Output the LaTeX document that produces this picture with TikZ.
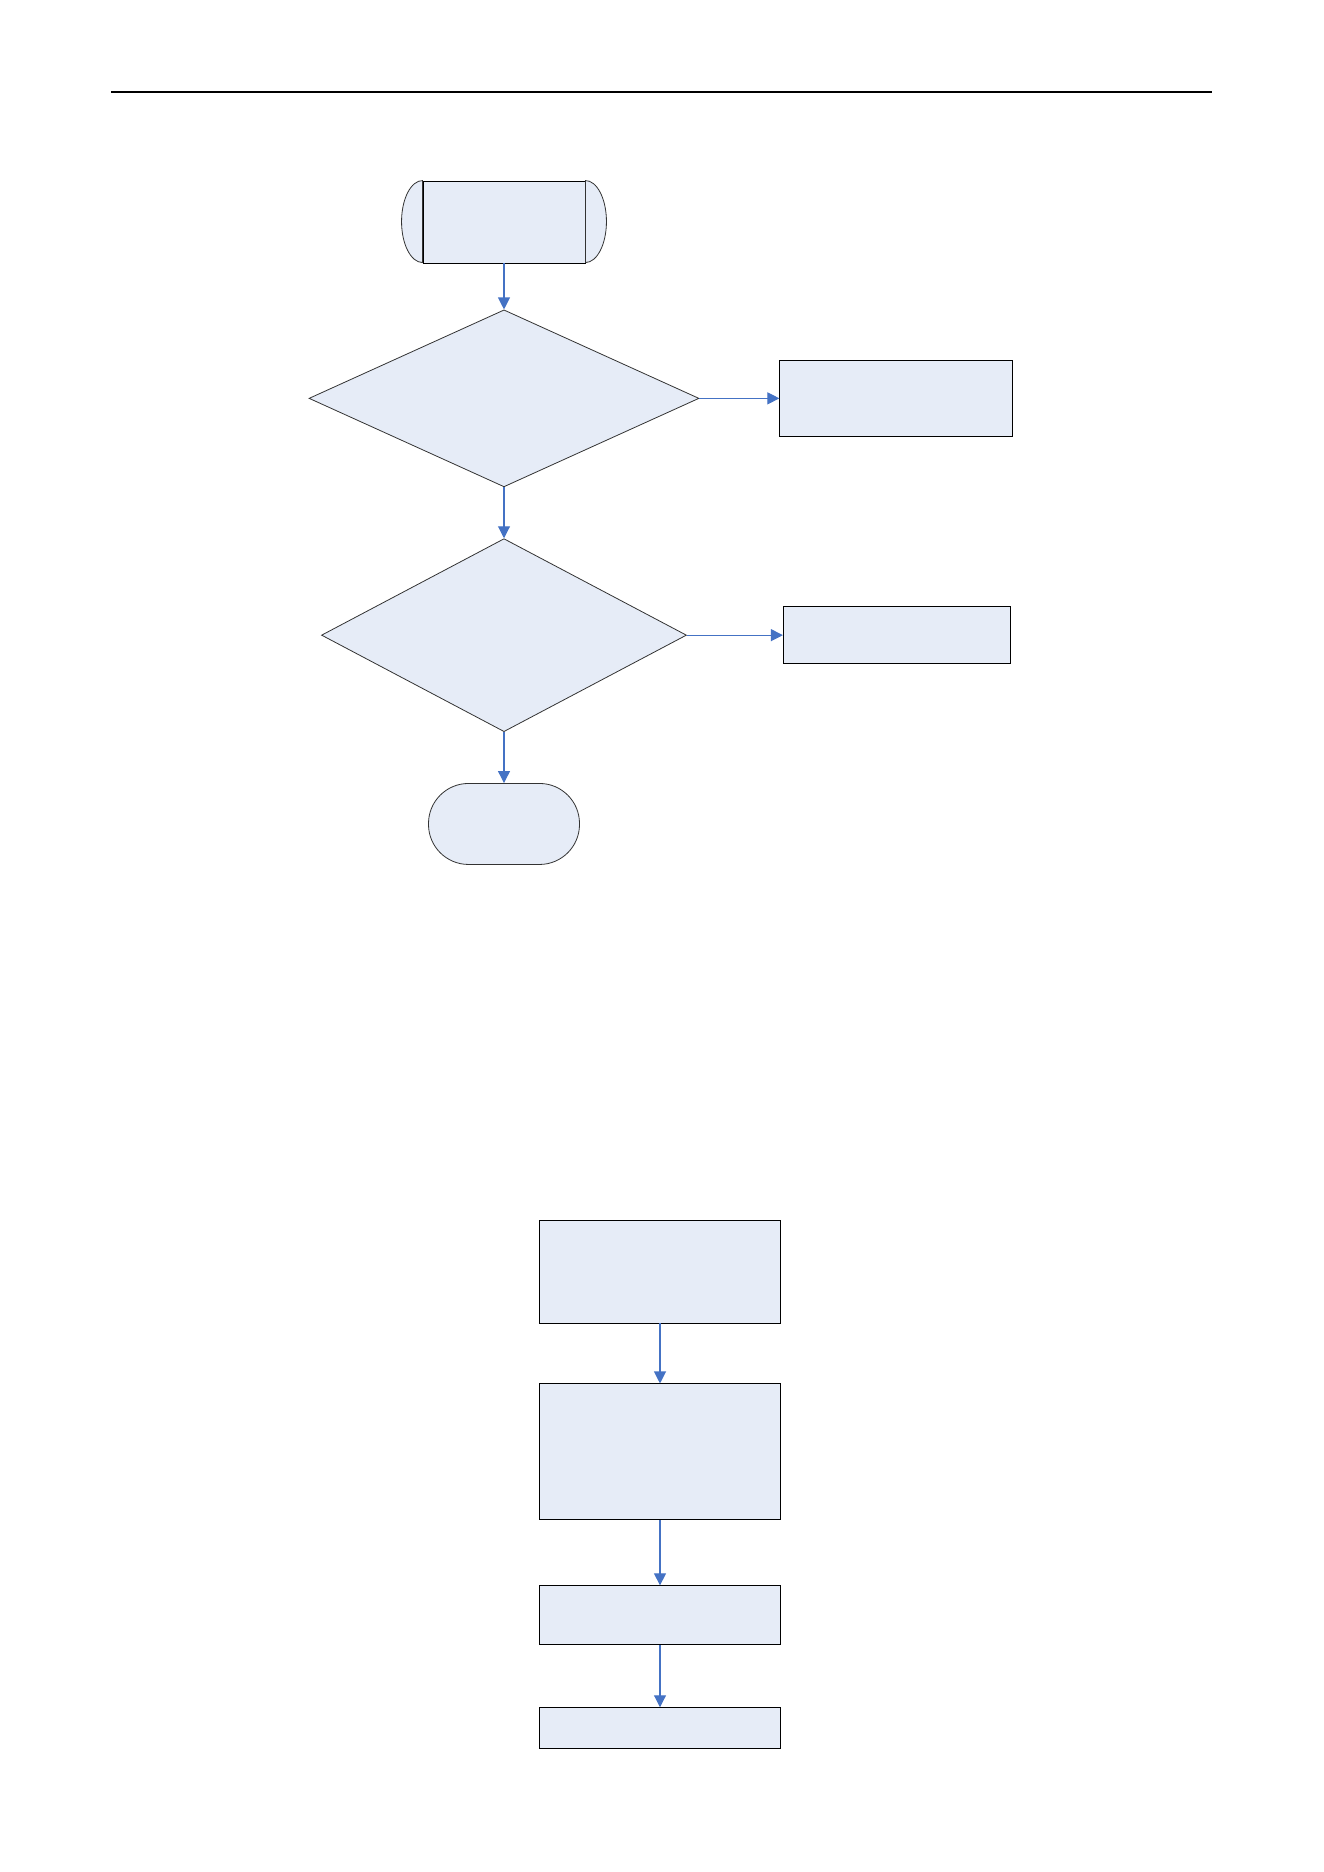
\documentclass[tikz,border=0pt]{standalone}
\usetikzlibrary{arrows.meta,positioning,shapes.geometric}
\definecolor{Pale}{HTML}{E6ECF7}
\definecolor{Edge}{HTML}{333333}
\definecolor{Flow}{HTML}{4472C4}

\begin{document}
\begin{tikzpicture}[x=1pt,y=-1pt,
  node distance=46pt,
  box/.style={draw=black,line width=0.9pt,fill=Pale,inner sep=0pt,minimum width=#1},
  box/.default=233pt,
  decision/.style={diamond,draw=Edge,line width=0.8pt,fill=Pale,inner sep=0pt},
  terminal/.style={draw=Edge,line width=0.8pt,fill=Pale,inner sep=0pt,rounded corners=40pt,
    minimum width=151pt,minimum height=81pt},
  arrow/.style={-{Triangle[length=12pt,width=12pt]},line width=1.1pt,draw=Flow}]
\useasboundingbox (0,0) rectangle (1324,1872);
\draw[line width=1.2pt] (111,92) -- (1212,92);
% upper chart
\node[draw=black,line width=0.9pt,fill=Pale,inner sep=0pt,minimum width=162pt,minimum height=82pt]
  (start) at (504,222) {};
\filldraw[draw=Edge,fill=Pale,line width=0.8pt] (start.north west)
  arc[start angle=90,end angle=270,x radius=21pt,y radius=41pt] -- cycle;
\filldraw[draw=Edge,fill=Pale,line width=0.8pt] (start.north east)
  arc[start angle=90,end angle=-90,x radius=21pt,y radius=41pt] -- cycle;
\node[decision,minimum width=390pt,minimum height=177pt,below=of start](check){};
\node[box,minimum height=76pt,right=80pt of check](reject){};
\node[decision,minimum width=365pt,minimum height=193pt,below=51pt of check](verify){};
\node[box=227pt,minimum height=57pt,right=97pt of verify,xshift=-1pt](notify){};
\node[terminal,below=51pt of verify](finish){};
\draw[arrow](start)--(check);\draw[arrow](check)--(reject);
\draw[arrow](check)--(verify);\draw[arrow](verify)--(notify);\draw[arrow](verify)--(finish);
% lower chart
\node[box=241pt,minimum height=103pt](load) at (660,1271.5){};
\node[box=241pt,minimum height=136pt,below=60pt of load](parse){};
\node[box=241pt,minimum height=59pt,below=65pt of parse](store){};
\node[box=241pt,minimum height=41pt,below=62pt of store](report){};
\draw[arrow](load)--(parse);\draw[arrow](parse)--(store);\draw[arrow](store)--(report);
\end{tikzpicture}
\end{document}
